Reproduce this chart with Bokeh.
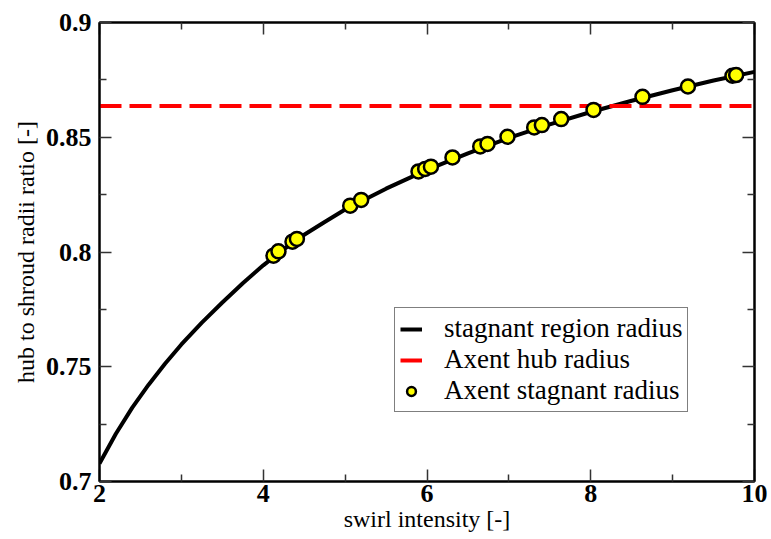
from bokeh.plotting import figure
from bokeh.models import Range1d, FixedTicker, LinearAxis, Legend, LegendItem
from bokeh.embed import file_html
from bokeh.resources import INLINE

# stagnant region radius curve
curve_x = [2.0, 2.2, 2.4, 2.6, 2.8, 3.0, 3.25, 3.5, 3.75, 4.0, 4.25, 4.5, 4.75, 5.0,
           5.5, 6.0, 6.5, 7.0, 7.5, 8.0, 8.5, 9.0, 9.5, 10.0]
curve_y = [0.7078, 0.7208, 0.7322, 0.7422, 0.7513, 0.7597, 0.7692, 0.7780, 0.7864, 0.7942,
           0.8012, 0.8075, 0.8131, 0.8185, 0.8276, 0.8358, 0.8430, 0.8497, 0.8556, 0.8610,
           0.8659, 0.8705, 0.8747, 0.8785]

# Axent hub radius
hub_x = [2.0, 10.0]
hub_y = [0.8636, 0.8636]

# Axent stagnant radius points
pts_x = [4.125, 4.186, 4.357, 4.411, 5.062, 5.196, 5.896, 5.978, 6.048, 6.311, 6.650, 6.739,
         6.983, 7.309, 7.403, 7.639, 8.034, 8.632, 9.187, 9.731, 9.776]
pts_y = [0.7984, 0.8003, 0.8045, 0.8057, 0.8202, 0.8227, 0.8351, 0.8362, 0.8372, 0.8412, 0.8460, 0.8471,
         0.8502, 0.8543, 0.8553, 0.8579, 0.8619, 0.8676, 0.8721, 0.8768, 0.8771]

x_major = [2, 4, 6, 8, 10]
x_minor = [3, 5, 7, 9]
x_labels = ["2", "4", "6", "8", "10"]
y_major = [0.7, 0.75, 0.8, 0.85, 0.9]
y_minor = [0.725, 0.775, 0.825, 0.875]
y_labels = ["0.7", "0.75", "0.8", "0.85", "0.9"]

FONT = "Liberation Serif"

p = figure(width=771, height=539, output_backend="svg", toolbar_location=None,
           x_range=Range1d(2, 10), y_range=Range1d(0.7, 0.9),
           min_border_left=99, min_border_right=17, min_border_top=22, min_border_bottom=58)
p.xgrid.visible = False
p.ygrid.visible = False
p.outline_line_color = "black"
p.outline_line_width = 2
p.background_fill_color = "white"
p.border_fill_color = "white"

def style_axis(ax, major, minor, labels, show_labels):
    ax.ticker = FixedTicker(ticks=major, minor_ticks=minor)
    ax.major_label_overrides = {m: l for m, l in zip(major, labels)}
    ax.axis_line_color = "black"
    ax.axis_line_width = 2
    ax.major_tick_in = 12
    ax.major_tick_out = 0
    ax.minor_tick_in = 7
    ax.minor_tick_out = 0
    ax.major_tick_line_color = "#333333"
    ax.minor_tick_line_color = "#333333"
    ax.major_tick_line_width = 1.5
    ax.minor_tick_line_width = 1.5
    ax.major_label_text_font = FONT
    ax.major_label_text_font_style = "bold"
    ax.major_label_text_font_size = "26px"
    ax.major_label_text_color = "black" if show_labels else None
    ax.axis_label_text_font = FONT
    ax.axis_label_text_font_style = "normal"
    ax.axis_label_text_font_size = "24px"
    ax.axis_label_text_color = "black"

style_axis(p.xaxis[0], x_major, x_minor, x_labels, True)
style_axis(p.yaxis[0], y_major, y_minor, y_labels, True)
p.xaxis[0].axis_label = "swirl intensity [-]"
p.yaxis[0].axis_label = "hub to shroud radii ratio [-]"
p.xaxis[0].major_label_standoff = 3
p.yaxis[0].major_label_standoff = 8
p.xaxis[0].axis_label_standoff = 1
p.yaxis[0].axis_label_standoff = 4

top = LinearAxis()
style_axis(top, x_major, x_minor, x_labels, False)
top.major_label_text_font_size = "0px"
top.major_label_standoff = 0
p.add_layout(top, "above")
right = LinearAxis()
style_axis(right, y_major, y_minor, y_labels, False)
right.major_label_text_font_size = "0px"
right.major_label_standoff = 0
p.add_layout(right, "right")

r_curve = p.line(curve_x, curve_y, line_color="black", line_width=4)
r_hub = p.line(hub_x, hub_y, line_color="#ff0000", line_width=4, line_dash="22 8")
r_pts = p.scatter(pts_x, pts_y, size=14, fill_color="#ffff00", line_color="black", line_width=2.5)

legend = Legend(items=[
    LegendItem(label="stagnant region radius", renderers=[r_curve]),
    LegendItem(label="Axent hub radius", renderers=[r_hub]),
    LegendItem(label="Axent stagnant radius", renderers=[r_pts]),
], location=(295, 69))
legend.label_text_font = FONT
legend.label_text_font_size = "27px"
legend.label_text_line_height = 1.0
legend.label_text_color = "black"
legend.glyph_width = 22
legend.glyph_height = 28
legend.label_height = 28
legend.label_standoff = 22
legend.spacing = 0
legend.padding = 5
legend.margin = 0
legend.border_line_color = "black"
legend.border_line_width = 1
legend.background_fill_color = "white"
legend.background_fill_alpha = 1
p.add_layout(legend, "center")

open("out.html", "w").write(file_html(p, INLINE))
